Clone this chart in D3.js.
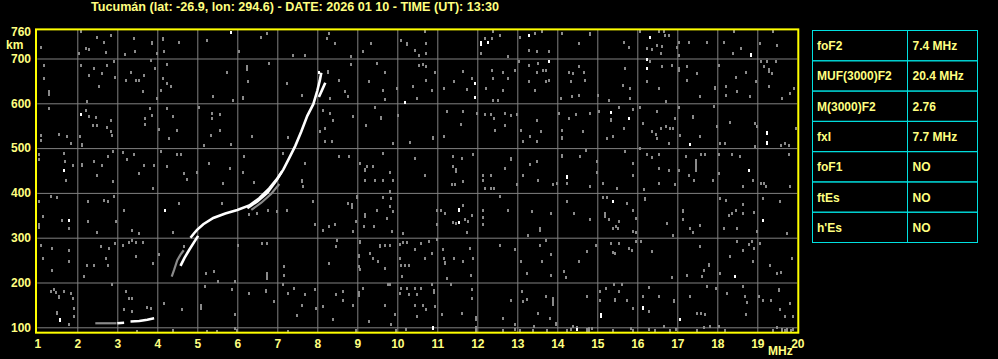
<!DOCTYPE html>
<html>
<head>
<meta charset="utf-8">
<script src="https://cdn.jsdelivr.net/npm/d3@7"></script>
<style>
  body { margin: 0; background: #000; }
  svg { display: block; }
</style>
</head>
<body>
<div id="chart"></div>
<script>
// ---- data ----
const title = "Tucumán (lat: -26.9, lon: 294.6) - DATE: 2026 01 10 - TIME (UT): 13:30";
const freqTicks = [1,2,3,4,5,6,7,8,9,10,11,12,13,14,15,16,17,18,19,20];
const freqGrid = [2,3,4,5,6,7,8,9,10,11,12,13,14,15,16,17,18,19];
const heightTicks = [100,200,300,400,500,600,700,760];
const heightGrid = [100,200,300,400,500,600,700];

const paramNames = ["foF2", "MUF(3000)F2", "M(3000)F2", "fxI", "foF1", "ftEs", "h'Es"];
const paramValues = ["7.4 MHz", "20.4 MHz", "2.76", "7.7 MHz", "NO", "NO", "NO"];

// traces [MHz, km]
const traceO = [[4.83,300],[4.92,310],[5.0,318],[5.15,330],[5.4,344],[5.7,354],[6.0,362],[6.3,372],[6.55,388],[6.8,410],[7.0,432],[7.15,452],[7.3,478],[7.45,505],[7.6,537],[7.75,572],[7.9,598],[8.0,628],[8.06,650],[8.1,668]];
const traceOLow = [[4.58,237],[4.68,255],[4.8,273],[4.92,290],[5.02,304]];
const traceX = [[6.25,366],[6.5,381],[6.75,400],[6.98,428],[7.12,448]];
const traceTop = [[8.04,614],[8.12,630],[8.2,646]];
const traceE = [[3.0,109],[3.17,110]];
const traceE2 = [[3.33,113],[3.55,114],[3.75,117],[3.92,120]];
const traceGreyLow = [[4.36,213],[4.42,228],[4.5,250],[4.58,262],[4.66,272]];
const traceGreyX = [[6.35,362],[6.6,378],[6.85,398],[7.05,420]];
const traceGreyE = [[2.45,109],[2.98,109]];

// noise echoes [MHz, km, extent km]
const noiseGrey = [
[1.08,726],[2.04,711],[2.21,722],[2.29,721],[2.5,748],[2.67,737],[2.71,713],[2.83,752],[3.19,709],[3.42,745],[3.43,715],[3.88,735,8],[4.0,711],[4.17,715],[4.13,745,8],[4.54,737],[5.23,741],[6.04,715],[6.58,748],[6.73,756],[2.08,761],
[1.17,685],[1.17,656],[1.29,622,14],[2.08,685],[2.3,663],[2.42,678],[2.54,637],[2.62,667],[2.75,684],[2.92,693],[2.94,659],[2.23,604],[3.22,652],[3.33,670],[3.46,652],[3.54,652],[3.67,663],[3.63,626],[3.83,696],[3.94,678],[4.13,656],[4.23,687],[4.25,644],[4.33,637],[4.08,630],[3.98,611],[5.4,615],[5.73,670],[5.89,607],[6.13,611,10],[6.23,678,14],[6.27,648],[6.78,689],[7.25,644],
[1.29,589],[1.08,529],[1.08,518],[1.53,531],[1.75,526],[1.83,511],[2.21,585],[2.29,570],[2.39,551],[2.5,551],[2.46,568],[2.73,546],[2.83,563],[2.83,537],[2.07,526],[2.12,507,10],[2.86,529],[3.69,566],[3.69,552],[3.82,589],[3.88,574],[4.25,589],[4.38,570],[4.5,540],[4.03,542],[4.29,522],[5.04,592],[5.38,578],[5.38,566],[5.58,575],[5.57,540],[5.33,528],[5.17,507],[5.85,508],[6.38,527],[7.27,523],
[1.04,485],[1.03,474],[1.67,488],[1.69,470],[1.71,429],[1.88,462],[2.12,462,10],[2.42,470],[2.5,440],[2.62,462],[2.77,481],[2.9,492],[2.89,425],[3.14,491],[3.23,474],[3.42,485],[3.54,444],[3.67,462],[3.92,462],[3.89,410],[4.08,492],[4.23,459],[4.48,485],[4.6,486],[4.68,444],[4.73,431],[4.98,447],[5.28,466],[5.65,421],[5.82,455],[6.13,446],[6.17,481],[6.42,423],[7.13,488],
[1.04,381],[1.05,325,14],[1.33,392],[1.5,390],[1.13,347],[1.63,338],[1.79,321],[2.27,382],[2.27,336],[2.67,384],[2.77,381],[2.5,312],[2.92,392],[2.96,336],[3.17,362],[3.38,317],[3.54,310],[4.38,312],[4.54,377],[5.63,377],[6.29,352],[6.48,355],[6.77,362],[7.0,358],[7.25,362],
[1.08,284],[1.38,277],[1.13,254],[1.38,228],[1.79,271],[1.79,247],[2.25,239],[2.17,213],[2.42,239],[2.58,280],[2.71,254],[2.79,277],[2.77,239],[2.94,288],[3.13,284],[3.3,290],[3.38,294],[3.46,290],[3.65,290],[3.46,258],[3.89,243],[4.04,262],[4.67,280],[5.21,221],[5.42,225],[6.03,284],[6.62,288],[6.73,288],[6.73,215,18],[7.17,236],[7.17,217],
[1.33,180],[1.42,184],[1.46,178],[1.54,168,8],[1.5,132,8],[1.67,180],[1.83,176],[1.88,165],[1.92,143],[1.92,125],[1.79,106],[2.88,195],[3.21,180],[3.28,164],[3.38,164],[3.17,139],[3.38,135],[3.75,145],[3.83,142],[4.17,154],[4.38,94],[4.63,139],[5.08,145,14],[5.19,191],[5.52,202],[5.88,184],[5.94,202],[5.94,128],[5.94,98],[6.29,176],[6.71,180,10],[6.92,158],[7.13,195],[7.27,176],
[8.3,756],[8.44,734],[8.23,745],[8.84,704],[9.13,716],[9.34,734],[7.4,708],[7.69,708],[10.09,741],[10.25,733,8],[10.44,719],[10.55,708],[10.73,733],[10.73,711],[10.69,761],[12.08,711],[12.2,745],[12.37,745],[12.4,760],[12.57,752],[12.78,704],[13.07,748],[13.29,719],[13.48,715],[13.44,756],[13.61,760],
[7.61,618],[8.28,670,10],[8.33,611],[8.55,652],[8.69,626],[8.78,615],[8.83,687],[9.29,650],[9.5,689],[9.63,630],[9.7,670],[9.68,609],[10.0,633],[10.4,637],[10.5,612],[10.55,685],[10.65,687],[10.73,682],[10.73,652],[10.86,630],[10.94,670],[11.18,633],[11.43,648],[11.63,672],[11.73,631],[11.86,655],[12.23,633],[12.37,674],[12.4,655],[12.4,607],[12.53,607],[12.65,670],[12.65,630],[12.78,655],[12.93,674],[13.05,693],[13.28,685],[13.28,648],[13.52,689],[13.48,670],[13.44,630],[13.63,674],
[8.15,585],[8.33,578],[8.19,544],[8.38,563],[8.07,537],[8.19,514],[8.36,514],[8.88,570],[9.22,551],[9.44,590],[9.58,566,10],[9.88,511],[10.03,574],[10.33,513],[10.88,522,10],[11.18,526],[11.23,581],[11.58,553],[11.65,581],[12.0,578],[12.2,575],[12.33,575],[12.43,566],[12.44,540],[12.69,551],[12.69,578],[12.84,574],[12.98,575],[13.09,540],[13.15,514],[13.32,526],[13.48,563],[13.48,514],[13.6,537],
[7.69,466],[7.63,427,8],[7.65,414],[8.55,482],[8.8,482],[9.08,466],[9.19,451,10],[9.25,459],[9.38,459],[9.2,429],[9.45,429],[9.65,429],[9.9,429],[9.65,488],[9.83,447],[10.44,477],[10.69,439],[11.4,481],[11.4,459],[11.47,450,12],[11.45,418],[11.37,418],[11.63,425],[11.61,477],[11.88,486],[12.13,440],[12.33,440],[12.15,427],[12.2,410],[12.33,410],[12.43,410],[12.69,455],[12.84,477,8],[12.98,418],[13.13,440],[13.32,464],[13.48,470],[13.52,429],
[7.9,381],[7.94,329],[8.15,317],[8.3,325],[8.44,329],[8.78,377],[8.87,370,14],[8.9,314],[8.98,392,8],[8.97,336],[9.19,350,12],[9.17,325],[9.42,325],[9.5,362],[9.63,390],[9.73,343],[9.82,369],[9.82,403],[9.84,388],[9.88,358],[9.86,314],[10.15,310],[11.0,362],[11.0,330],[11.1,362],[11.19,355],[11.4,335],[11.47,331],[11.65,373],[11.69,340],[11.78,336],[11.86,351],[11.73,312],[12.13,362],[12.13,345],[12.13,330],[12.57,392],[12.78,362],[13.26,306],[13.36,358],[13.58,318,12],
[8.48,294],[8.47,280],[8.3,243],[9.07,290,8],[9.05,258,10],[9.07,229],[9.03,236],[9.32,265],[9.38,254],[9.57,280,10],[9.69,284],[9.69,232],[9.82,282],[9.53,247],[10.07,285],[10.15,290],[10.23,290],[10.07,254],[10.1,239],[10.2,239],[10.3,239],[10.11,213],[10.59,288],[10.44,273],[10.69,253],[10.8,292],[10.86,265],[11.0,297],[11.13,273],[11.19,243,8],[11.17,254],[11.25,210],[11.43,254],[11.63,247],[11.82,276],[11.84,217],[11.88,254],[12.58,284],[12.94,273],[13.09,247],[13.23,221],[13.57,284],[13.61,247],
[7.42,186],[7.61,150],[7.48,126],[7.69,173],[7.94,184],[7.97,143],[8.13,147],[8.4,117],[8.46,173],[8.65,180],[8.65,161],[8.9,150],[9.03,175,14],[9.13,187],[9.29,113],[9.76,195],[9.83,195],[9.69,150],[9.94,128],[9.84,106],[10.07,176],[10.1,187],[10.23,187],[10.3,173],[10.44,187],[10.48,173],[10.44,150],[10.48,124],[10.59,187],[10.65,150],[10.73,139],[10.86,195],[10.92,180,12],[10.94,146],[11.11,128],[11.34,195],[11.61,132],[11.86,184],[11.86,165],[11.97,120,12],[11.98,100],[12.65,121],[12.83,161],[12.94,106],[13.12,180],[13.13,158],[13.23,162],[13.42,102],[13.52,132],
[13.79,715],[14.13,756],[14.54,734],[14.83,756,8],[15.67,737],[15.79,726],[16.08,760],[16.25,722],[16.38,720],[16.5,730],[16.63,727],[16.58,711],[16.54,760],[16.67,760],[16.7,752],[16.8,752],[17.05,735],[17.0,726],[17.3,735],[17.04,708],[17.75,737],[18.17,737],[18.42,760],[18.4,711],[18.6,722],[19.07,734],[19.4,760],[19.5,730],
[13.71,674],[13.71,648],[13.79,652],[14.29,670],[14.38,667],[14.33,648],[14.54,682],[14.69,652],[14.68,669],[14.36,615],[14.54,618],[14.08,611],[15.03,618],[15.29,607],[15.64,641],[15.68,678],[15.82,633],[15.82,611],[16.25,648],[16.33,693],[16.63,682],[16.54,633],[16.71,604],[16.88,685],[17.03,674,12],[17.25,682],[17.25,652],[17.5,667],[17.58,615],[17.93,633,10],[18.04,685],[18.21,637],[18.21,618],[18.46,659],[18.5,626],[18.71,670],[18.83,615],[18.96,648],[19.17,682],[19.29,672,12],[19.38,667],[19.46,693],[19.29,637],[19.63,611],[19.83,622],[19.93,633],[19.1,693],[19.25,693],
[14.04,578],[14.29,566],[14.46,575],[14.13,540],[14.13,522,10],[14.65,537],[14.82,578],[15.04,581],[15.33,563,10],[15.54,592],[15.67,544],[15.9,587],[15.23,522],[15.4,526],[16.08,592],[16.15,555],[16.5,581],[16.38,537],[16.46,530],[16.6,544],[16.72,548],[16.83,544],[16.9,544],[16.5,522],[16.79,511],[16.93,566],[17.04,592],[17.38,570,8],[17.08,529],[17.58,526],[17.92,594],[18.0,548],[18.08,511],[18.2,511],[18.33,557],[18.94,555],[18.94,503],[18.98,548],[19.6,507],[19.8,507],[19.96,544],[19.7,511],
[13.9,418],[14.0,421],[14.13,482,8],[14.23,421],[14.58,481],[14.71,496],[14.83,414],[14.98,470],[14.98,447],[15.13,421],[15.48,410],[15.68,492],[15.9,466],[15.88,440],[16.08,500],[16.25,485],[16.38,480],[16.54,485],[16.54,455],[16.79,451],[16.54,421],[16.94,418],[17.04,451],[17.21,481],[17.46,462,28],[17.6,486],[17.7,486],[17.29,440],[17.42,427],[17.9,427],[18.03,444],[18.03,485],[18.38,485],[18.58,481],[18.63,414],[18.88,427],[19.1,421],[19.16,421],[19.21,414],[19.79,486],[19.83,414],
[13.83,355],[14.23,382],[14.43,355],[14.83,340],[15.13,390],[15.25,389],[15.18,350,14],[15.29,340],[15.46,325],[15.54,336],[15.4,322],[15.52,322],[15.75,377],[15.9,362],[15.96,343],[15.9,314],[15.96,311],[16.2,385,10],[16.18,407],[16.75,332],[16.9,306],[17.15,358,10],[17.15,340],[17.33,321],[17.38,312],[17.58,328],[18.08,388],[18.23,384],[18.3,350],[18.38,355],[18.46,362],[18.65,375],[18.17,321],[18.48,321],[18.65,355],[18.93,357],[19.14,388],[19.0,314],[19.58,381],[19.73,310],
[13.71,293],[13.83,262],[13.83,217],[14.17,225],[14.21,211],[14.54,247],[14.73,269],[14.96,284],[15.33,288],[15.4,267],[15.44,265],[15.54,288],[15.8,276],[15.86,272],[15.96,291],[16.1,291],[16.38,269],[16.88,211],[17.25,217],[17.58,280],[17.78,239,10],[17.67,228],[17.63,213],[18.08,221],[18.33,259],[18.5,291],[18.65,271],[18.8,286],[18.86,292],[18.9,247],[18.93,277],[19.08,288],[19.33,239],[19.5,220],[19.6,222],[19.88,254],
[13.71,169],[13.9,158,20],[13.82,121],[13.98,107,8],[14.4,103],[14.48,99],[14.73,169],[14.79,98],[14.87,98],[15.07,180],[15.07,160],[15.21,187],[15.42,195],[15.43,160,10],[15.54,180],[15.63,195],[15.73,161],[15.88,143],[15.83,98],[16.13,169],[16.29,189],[16.29,135],[16.54,169],[16.67,102],[16.92,158,10],[16.96,95],[17.33,170],[17.48,132],[17.67,100],[17.83,102],[17.6,132],[17.7,130],[17.75,191],[17.96,187],[18.04,102],[18.25,176],[18.7,170],[18.74,155],[18.65,191],[18.71,128],[19.04,169],[19.15,161],[19.35,161],[19.54,183,10],[19.58,139],[19.68,124],[19.83,154],[19.9,124],[19.5,100],[19.7,94],[19.85,94],
[12.65,94],[12.94,96],[13.07,94],[13.4,94],[13.74,94],[14.24,94],[14.34,96],[14.73,94,8],[14.8,94,8],[15.4,94],[15.9,94],[16.28,96],[16.44,94],[16.83,94],[17.48,94],[18.19,94],[19.4,94],[19.61,94,8],[19.73,94,8],[19.9,96],
[3.48,91],[5.23,91],[5.48,91],[5.98,93],[7.27,91],[8.97,93],[9.97,93],[10.22,96],[11.98,93]
];
const noiseWhite = [
[5.83,758],[2.08,575],[1.67,451],[4.19,362],[1.79,338],[1.57,116,8],[12.08,732,12],[12.27,736],[10.19,603],[11.94,645],[11.94,613],[11.53,362,8],[11.54,335],[13.29,752],[10.88,98,8],
[13.79,693],[16.33,748],[16.23,699],[16.23,678],[15.33,580],[15.79,566],[17.33,508],[14.23,436,8],[18.79,451],[15.38,381],[19.14,338],[19.23,535,8],[19.23,511,8],[18.85,708,10],[18.44,213],[16.13,143,10],[17.08,117],[15.1,125,12],[14.5,95],[8.05,668]
];

// ---- layout ----
const W = 998, H = 359;
const svg = d3.select("#chart").append("svg").attr("width", W).attr("height", H).style("background", "#000");

const x = d3.scaleLinear().domain([1, 20]).range([37.3, 797.3]);
const y = d3.scaleLinear().domain([100, 700]).range([327.3, 58.5]);
const yTop = y(765), yBot = y(88);

const font = "'Liberation Sans', Arial, sans-serif";
const textCol = "#ffff80";

svg.append("text").attr("x", 91).attr("y", 11)
  .attr("textLength", 408).attr("lengthAdjust", "spacingAndGlyphs")
  .style("font", "bold 12px " + font).attr("fill", textCol).text(title);

// grid
const gx = svg.append("g").attr("transform", "translate(0," + yBot + ")")
  .call(d3.axisBottom(x).tickValues(freqGrid).tickSize(-(yBot - yTop)).tickFormat(""));
gx.select(".domain").remove();
gx.selectAll("line").attr("stroke", "#808080");

const gy = svg.append("g").attr("transform", "translate(" + x(1) + ",0)")
  .call(d3.axisLeft(y).tickValues(heightGrid).tickSize(-(x(20) - x(1))).tickFormat(""));
gy.select(".domain").remove();
gy.selectAll("line").attr("stroke", "#808080");

// noise echoes
function dots(data, colour) {
  svg.append("g").selectAll("rect").data(data).enter().append("rect")
    .attr("x", d => Math.round(x(d[0])) - 1)
    .attr("width", 2)
    .attr("y", d => Math.round(y(d[1] + (d[2] || 6) / 2)))
    .attr("height", d => Math.max(3, Math.round(y(d[1] - (d[2] || 6) / 2) - y(d[1] + (d[2] || 6) / 2))))
    .attr("fill", colour);
}
dots(noiseGrey, "#8a8a8a");
dots(noiseWhite, "#ffffff");

// traces
const line = d3.line().x(d => x(d[0])).y(d => y(d[1]));
[traceGreyLow, traceGreyX, traceGreyE].forEach(t => {
  svg.append("path").datum(t).attr("d", line).attr("fill", "none")
    .attr("stroke", "#8a8a8a").attr("stroke-width", 2.2);
});
[traceO, traceOLow, traceX, traceTop, traceE, traceE2].forEach(t => {
  svg.append("path").datum(t).attr("d", line).attr("fill", "none")
    .attr("stroke", "#ffffff").attr("stroke-width", 2.6);
});

// frame
svg.append("rect").attr("x", 36).attr("y", yTop).attr("width", x(20) + 1 - 36).attr("height", yBot - yTop)
  .attr("fill", "none").attr("stroke", "#ffff00").attr("stroke-width", 2);

// axis labels
const ax = svg.append("g").attr("transform", "translate(0," + yBot + ")")
  .call(d3.axisBottom(x).tickValues(freqTicks).tickSize(0).tickPadding(7));
ax.select(".domain").remove();
ax.selectAll("text").attr("fill", textCol).style("font", "bold 12px " + font);

const ay = svg.append("g").attr("transform", "translate(36,0)")
  .call(d3.axisLeft(y).tickValues(heightTicks).tickSize(0).tickPadding(5));
ay.select(".domain").remove();
ay.selectAll("text").attr("fill", textCol).style("font", "bold 12px " + font);

svg.append("text").attr("x", 6).attr("y", 48.5).attr("fill", textCol)
  .style("font", "bold 12px " + font).text("km");
svg.append("text").attr("x", 768).attr("y", 355).attr("fill", textCol)
  .style("font", "bold 12px " + font).text("MHz");

// parameter table
const colX = [812.5, 907.5, 977.5];
const rowY = d3.scaleBand().domain(paramNames).range([30.5, 242.5]);
const rows = svg.append("g").selectAll("g").data(d3.zip(paramNames, paramValues)).enter().append("g");
rows.append("rect").attr("x", colX[0]).attr("y", d => rowY(d[0]))
  .attr("width", colX[2] - colX[0]).attr("height", rowY.bandwidth())
  .attr("fill", "none").attr("stroke", "#00e0e0").attr("stroke-width", 1);
rows.append("text").attr("x", colX[0] + 4.5).attr("y", d => rowY(d[0]) + rowY.bandwidth() / 2 + 4.5)
  .attr("fill", textCol).style("font", "bold 12px " + font).text(d => d[0]);
rows.append("text").attr("x", colX[1] + 5).attr("y", d => rowY(d[0]) + rowY.bandwidth() / 2 + 4.5)
  .attr("fill", textCol).style("font", "bold 12px " + font).text(d => d[1]);
svg.append("line").attr("x1", colX[1]).attr("x2", colX[1]).attr("y1", 30.5).attr("y2", 242.5)
  .attr("stroke", "#00e0e0").attr("stroke-width", 1);
</script>
</body>
</html>
